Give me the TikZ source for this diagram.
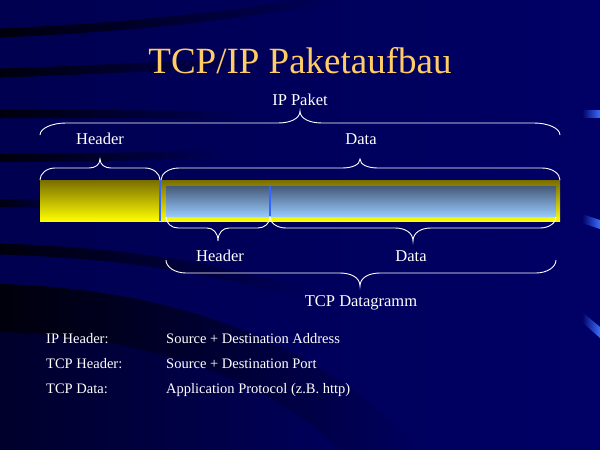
\documentclass[tikz,border=0pt]{standalone}
\usepackage{fontspec}
\setmainfont{Liberation Serif}
\usetikzlibrary{fadings}
\definecolor{bgnavy}{RGB}{0,0,102}
\definecolor{bgdark}{RGB}{0,0,80}
\definecolor{titlec}{RGB}{255,204,102}
\definecolor{olivebar}{RGB}{122,110,0}
\definecolor{barblue}{RGB}{51,102,255}
\definecolor{lbtop}{RGB}{70,90,122}
\definecolor{lbbot}{RGB}{150,200,250}
\definecolor{glint}{RGB}{60,110,255}
% x0, x1, xtip, yend, yflat, ytip, endwidth, tipwidth
\newcommand\cbrace[8]{%
  \draw[bracel] (#1,#4) .. controls (#1,{#4+0.55*(#5-#4)}) and ({#1+0.45*#7},#5) .. ({#1+#7},#5)
    -- ({#3-#8},#5) .. controls ({#3-0.45*#8},#5) and (#3,{#5+0.35*(#6-#5)}) .. (#3,#6)
    .. controls (#3,{#5+0.35*(#6-#5)}) and ({#3+0.45*#8},#5) .. ({#3+#8},#5)
    -- ({#2-#7},#5) .. controls ({#2-0.45*#7},#5) and (#2,{#4+0.55*(#5-#4)}) .. (#2,#4);}
\tikzset{
  bracel/.style={white, line width=0.9pt},
  lbl/.style={text=white, font=\fontsize{16.5}{20}\selectfont, inner sep=0pt},
  info/.style={text=white, font=\fontsize{14.5}{17}\selectfont, inner sep=0pt, anchor=base west},
  swoosh/.style={black, opacity=0.85, path fading=east},
  divider/.style={barblue, line width=1.3pt}
}
\begin{document}
\begin{tikzpicture}[x=1pt,y=-1pt]
\useasboundingbox (0,0) rectangle (600,450);
% background
\shade[left color=bgdark, right color=bgnavy] (0,0) rectangle (600,450);
\draw[swoosh, line width=9pt] (0,33) .. controls (120,28) and (250,15) .. (340,-4);
\draw[swoosh, line width=9pt] (0,73) .. controls (90,70) and (170,66) .. (260,62);
\draw[swoosh, line width=8pt] (0,114) .. controls (80,114) and (160,114) .. (240,116);
\draw[swoosh, line width=8pt] (0,158) .. controls (80,158) and (150,156) .. (220,154);
\draw[swoosh, line width=8pt] (0,203) .. controls (20,203) and (40,204) .. (60,204);
\draw[swoosh, line width=11pt] (0,249) .. controls (90,252) and (180,260) .. (300,292);
\fill[black, opacity=0.85, path fading=east] (0,284) .. controls (150,288) and (310,330) .. (420,450)
   -- (340,450) .. controls (260,370) and (130,336) .. (0,332) -- cycle;
\fill[black, opacity=0.45, path fading=east] (0,332) .. controls (130,336) and (260,370) .. (340,450)
   -- (0,450) -- cycle;
\fill[glint, path fading=west] (582,110) rectangle (600,118);
\fill[glint, path fading=west] (582,214) -- (600,220) -- (600,229) -- (582,223) -- cycle;
\fill[glint, path fading=west] (582,312) -- (600,327) -- (600,338) -- (582,322) -- cycle;
% title
\node[anchor=base, text=titlec, font=\fontsize{37}{44}\selectfont, inner sep=0pt] (title) at (300,73) {TCP/IP Paketaufbau};
% bars
\node[top color=olivebar, middle color={yellow!68!olivebar}, bottom color=yellow, minimum width=520pt, minimum height=41pt, inner sep=0pt, anchor=north west] (ipbar) at (40,180) {};
\node[top color=lbtop, middle color={lbbot!65!lbtop}, bottom color=lbbot, minimum width=390pt, minimum height=30pt, inner sep=0pt, anchor=north west] (tcpbar) at (166,186) {};
\draw[divider] (160,180) -- (160,221);
\draw[divider] (270,186) -- (270,216);
% braces
\cbrace{40}{560}{300}{135}{123}{111}{26}{22}
\cbrace{40}{160}{100}{180}{168}{159}{15}{11}
\cbrace{161}{560}{360}{180}{168}{159}{18}{18}
\cbrace{166}{270}{218}{217}{228}{241}{12}{11}
\cbrace{270}{556}{413}{217}{228}{241}{16}{18}
\cbrace{166}{556}{360}{260}{273}{286}{20}{20}
% labels
\node[lbl, anchor=base] (ippaket) at (300,105) {IP Paket};
\node[lbl, anchor=base] (iphead) at (100,144) {Header};
\node[lbl, anchor=base] (ipdata) at (361,144) {Data};
\node[lbl, anchor=base] (tcphead) at (220,261) {Header};
\node[lbl, anchor=base] (tcpdata) at (411,261) {Data};
\node[lbl, anchor=base] (tcpdg) at (361,306) {TCP Datagramm};
% info
\node[info] (k1) at (46,343) {IP Header:};
\node[info] (k2) at (46,368) {TCP Header:};
\node[info] (k3) at (46,393) {TCP Data:};
\node[info] (v1) at (166,343) {Source + Destination Address};
\node[info] (v2) at (166,368) {Source + Destination Port};
\node[info] (v3) at (166,393) {Application Protocol (z.B. http)};
\end{tikzpicture}
\end{document}
